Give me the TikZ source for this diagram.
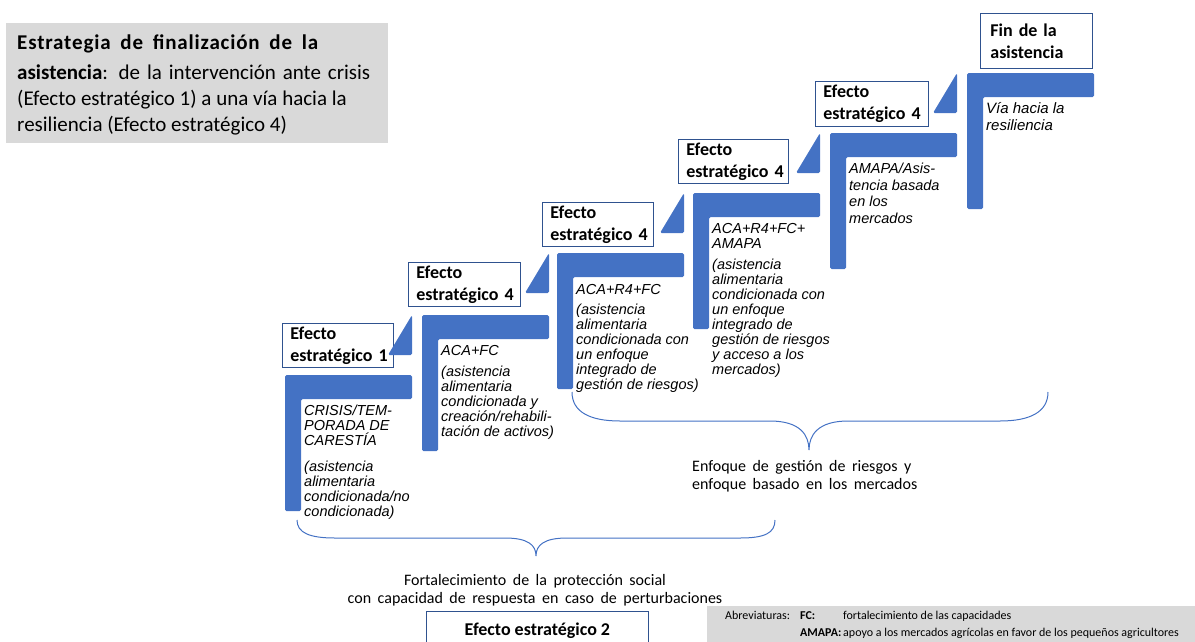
\documentclass[tikz,border=0pt]{standalone}
\usepackage{fontspec}
\setmainfont{Carlito}
\newfontfamily\stepfont{Liberation Sans}
\newfontfamily\widefont{Carlito}[WordSpace=1.8]
\newfontfamily\spacedbold{Carlito Bold}[LetterSpace=4]
\definecolor{barblue}{HTML}{4472C4}
\definecolor{boxblue}{HTML}{2F528F}
\definecolor{panelgray}{HTML}{D9D9D9}

\begin{document}
\begin{tikzpicture}[x=1pt, y=-1pt,
    bar/.style={fill=barblue, rounded corners=1.5pt},
    effbox/.style={draw=boxblue, line width=0.8pt, fill=white, anchor=north west, inner xsep=8pt, inner ysep=2pt,
        align=left, font=\fontsize{18}{22}\selectfont\bfseries},
    steptext/.style={anchor=north west, inner sep=0pt, align=left,
        font=\stepfont\itshape\fontsize{14.5}{15}\selectfont},
    brace/.style={draw=barblue, line width=1pt}]
    \useasboundingbox (0, 0) rectangle (1195, 641);

    % Title panel
    \fill[panelgray] (6, 23) rectangle (388, 143);
    \node at (17, 35) [anchor=north west, inner sep=0pt, align=left, font=\fontsize{21}{26}\selectfont] (title)
    {\makebox[301pt][s]{\spacedbold Estrategia de finalización de la}\\[4pt]
     \makebox[353pt][s]{\textbf{asistencia}: de la intervención ante crisis}\\
     (Efecto estratégico 1) a una vía hacia la\\
     resiliencia (Efecto estratégico 4)};

    % Steps
    \fill[bar] (285, 375) -- (412, 375) -- (412, 399) -- (301, 399) -- (301, 511) -- (285, 511) -- cycle;
    \fill[bar] (422, 315) -- (549, 315) -- (549, 339) -- (438, 339) -- (438, 451) -- (422, 451) -- cycle;
    \fill[bar] (557, 253) -- (684, 253) -- (684, 277) -- (573, 277) -- (573, 389) -- (557, 389) -- cycle;
    \fill[bar] (693, 193) -- (820, 193) -- (820, 217) -- (709, 217) -- (709, 329) -- (693, 329) -- cycle;
    \fill[bar] (830, 133) -- (957, 133) -- (957, 157) -- (846, 157) -- (846, 269) -- (830, 269) -- cycle;
    \fill[bar] (967, 73) -- (1094, 73) -- (1094, 97) -- (983, 97) -- (983, 209) -- (967, 209) -- cycle;

    % Step texts
    \node at (304, 405) [steptext] (step1) {CRISIS/TEM-\\PORADA DE\\CARESTÍA\\[11pt]
        (asistencia\\alimentaria\\condicionada/no\\condicionada)};
    \node at (441, 345) [steptext] (step2) {ACA+FC\\[6pt]
        (asistencia\\alimentaria\\condicionada y\\creación/rehabili-\\tación de activos)};
    \node at (576, 284) [steptext] (step3) {ACA+R4+FC\\[5pt]
        (asistencia\\alimentaria\\condicionada con\\un enfoque\\integrado de\\gestión de riesgos)};
    \node at (712, 223) [steptext] (step4) {ACA+R4+FC+\\AMAPA\\[6pt]
        (asistencia\\alimentaria\\condicionada con\\un enfoque\\integrado de\\gestión de riesgos\\y acceso a los\\mercados)};
    \node at (849, 163) [steptext, font=\stepfont\itshape\fontsize{14.5}{16.5}\selectfont] (step5)
        {AMAPA/Asis-\\tencia basada\\en los\\mercados};
    \node at (986, 102) [steptext, font=\stepfont\itshape\fontsize{15}{17}\selectfont] (step6)
        {Vía hacia la\\resiliencia};

    % Effect boxes
    \node at (282, 323) [effbox, text width=95pt, minimum height=44pt] (eff1) {Efecto\\estratégico~1};
    \node at (408, 262) [effbox, text width=96pt, minimum height=44pt] (eff4a) {Efecto\\estratégico~4};
    \node at (542, 202) [effbox, text width=95pt, minimum height=44pt] (eff4b) {Efecto\\estratégico~4};
    \node at (678, 139) [effbox, text width=94pt, minimum height=44pt] (eff4c) {Efecto\\estratégico~4};
    \node at (815, 81) [effbox, text width=97pt, minimum height=45pt] (eff4d) {Efecto\\estratégico~4};
    \node at (980, 13) [effbox, inner xsep=10pt, text width=92pt, minimum height=55pt] (fin) {Fin de la\\asistencia};

    % Triangles between steps
    \fill[bar] (412, 315) -- (412, 355) -- (388, 355) -- cycle;
    \fill[bar] (549, 253) -- (549, 293) -- (525, 293) -- cycle;
    \fill[bar] (684, 193) -- (684, 233) -- (660, 233) -- cycle;
    \fill[bar] (820, 133) -- (820, 173) -- (796, 173) -- cycle;
    \fill[bar] (957, 73) -- (957, 113) -- (933, 113) -- cycle;

    % Braces
    \draw[brace] (297, 520) .. controls (297, 533) and (310, 538) .. (335, 538) -- (505, 538)
        .. controls (528, 538) and (536, 545) .. (536, 556)
        .. controls (536, 545) and (544, 538) .. (567, 538) -- (740, 538)
        .. controls (765, 538) and (775, 533) .. (775, 520);
    \draw[brace] (572, 392) .. controls (572, 412) and (590, 421) .. (620, 421) -- (770, 421)
        .. controls (800, 421) and (809, 435) .. (809, 450)
        .. controls (809, 435) and (818, 421) .. (848, 421) -- (1000, 421)
        .. controls (1030, 421) and (1048, 412) .. (1048, 392);

    % Brace labels
    \node at (692, 460) [anchor=north west, inner sep=0pt, align=left, font=\widefont\fontsize{16}{18}\selectfont] (riesgos)
        {Enfoque de gestión de riesgos y\\enfoque basado en los mercados};
    \node at (535, 574) [anchor=north, inner sep=0pt, align=center, font=\widefont\fontsize{16}{18}\selectfont] (proteccion)
        {Fortalecimiento de la protección social\\con capacidad de respuesta en caso de perturbaciones};
    \node at (426, 611) [effbox, align=center, minimum width=222pt, minimum height=38pt] (eff2) {Efecto estratégico 2};

    % Abbreviations
    \fill[panelgray] (707, 606) rectangle (1200, 645);
    \node at (725, 611) [anchor=north west, inner sep=0pt, align=left, font=\fontsize{12}{17}\selectfont] (abrev)
        {\makebox[75pt][l]{Abreviaturas:}\makebox[43pt][l]{\textbf{FC:}}fortalecimiento de las capacidades\\
         \makebox[75pt][l]{}\makebox[43pt][l]{\textbf{AMAPA:}}apoyo a los mercados agrícolas en favor de los pequeños agricultores};
\end{tikzpicture}
\end{document}
